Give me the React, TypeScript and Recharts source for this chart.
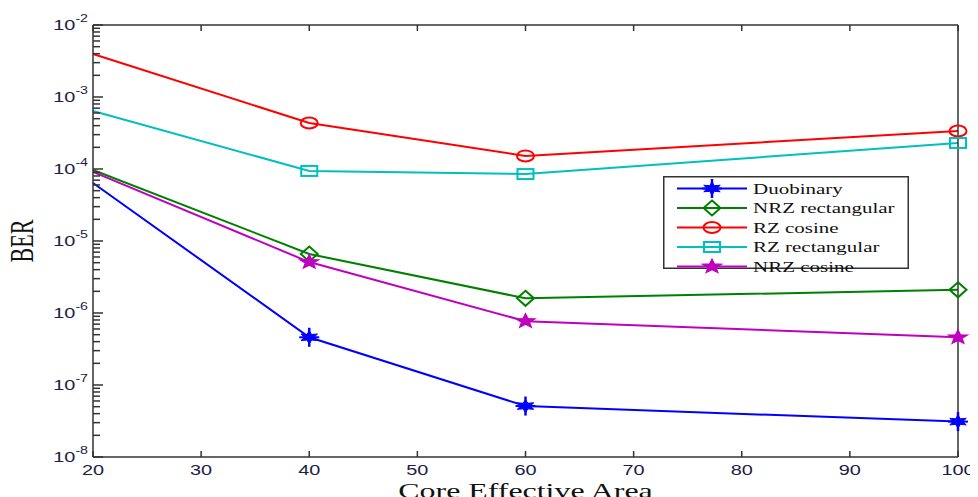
import React from 'react';
import { LineChart, Line, XAxis, YAxis, Legend } from 'recharts';

// ---- data ----
const xValues = [20, 40, 60, 100];
const duobinary = [6.4e-5, 4.6e-7, 5.1e-8, 3.1e-8];
const nrzRectangular = [9.7e-5, 6.6e-6, 1.6e-6, 2.1e-6];
const rzCosine = [3.95e-3, 4.35e-4, 1.52e-4, 3.37e-4];
const rzRectangular = [6.4e-4, 9.4e-5, 8.5e-5, 2.3e-4];
const nrzCosine = [9.1e-5, 5.1e-6, 7.7e-7, 4.6e-7];

const xTicks = [20, 30, 40, 50, 60, 70, 80, 90, 100];
const yDecadeExponents = [-8, -7, -6, -5, -4, -3, -2];

const seriesList = [
  { key: 'duo', name: 'Duobinary', color: '#0000ff', marker: 'asterisk', values: duobinary },
  { key: 'nrzRect', name: 'NRZ rectangular', color: '#008000', marker: 'diamond', values: nrzRectangular },
  { key: 'rzCos', name: 'RZ cosine', color: '#ff0000', marker: 'circle', values: rzCosine },
  { key: 'rzRect', name: 'RZ rectangular', color: '#00bfbf', marker: 'square', values: rzRectangular },
  { key: 'nrzCos', name: 'NRZ cosine', color: '#bf00bf', marker: 'pentagram', values: nrzCosine },
];

const data = xValues.map((x, i) => {
  const row: any = { x };
  seriesList.forEach((s) => (row[s.key] = s.values[i]));
  return row;
});

const yTicks: number[] = [];
yDecadeExponents.forEach((e, idx) => {
  yTicks.push(Math.pow(10, e));
  if (idx < yDecadeExponents.length - 1) {
    for (let k = 2; k <= 9; k++) yTicks.push(k * Math.pow(10, e));
  }
});

const isMajor = (v: number) => {
  const l = Math.log10(v);
  return Math.abs(l - Math.round(l)) < 1e-6;
};

const SX = 1.42; // horizontal stretch of the reference
const AXIS_COLOR = '#333333';
const LABEL_COLOR = '#1c1c44';
const SANS = '"Liberation Sans", Arial, Helvetica, sans-serif';
const SERIF = '"Liberation Serif", "Times New Roman", serif';

function starPoints(n: number, rx: number, ry: number, inner: number, cx: number, cy: number) {
  const pts: string[] = [];
  for (let i = 0; i < n * 2; i++) {
    const r = i % 2 === 0 ? 1 : inner;
    const a = -Math.PI / 2 + (i * Math.PI) / n;
    pts.push(`${cx + Math.cos(a) * r * rx},${cy + Math.sin(a) * r * ry}`);
  }
  return pts.join(' ');
}

function Marker({ kind, cx, cy, color }: { kind: string; cx: number; cy: number; color: string }) {
  switch (kind) {
    case 'circle':
      return <ellipse cx={cx} cy={cy} rx={8.5} ry={5.5} fill="none" stroke={color} strokeWidth={2} />;
    case 'square':
      return <rect x={cx - 8} y={cy - 5} width={16} height={10} fill="none" stroke={color} strokeWidth={2} />;
    case 'diamond':
      return (
        <polygon
          points={`${cx},${cy - 7.5} ${cx + 8.5},${cy} ${cx},${cy + 7.5} ${cx - 8.5},${cy}`}
          fill="none"
          stroke={color}
          strokeWidth={2}
        />
      );
    case 'pentagram':
      return (
        <polygon
          points={starPoints(5, 10, 7.5, 0.42, cx, cy)}
          fill={color}
          stroke={color}
          strokeWidth={1.2}
        />
      );
    case 'asterisk':
    default:
      return (
        <g>
          <polygon points={starPoints(6, 9.5, 6.5, 0.5, cx, cy)} fill={color} stroke={color} strokeWidth={1} />
          <line x1={cx} y1={cy - 9.5} x2={cx} y2={cy + 9.5} stroke={color} strokeWidth={2.5} />
          <line x1={cx - 10} y1={cy} x2={cx + 10} y2={cy} stroke={color} strokeWidth={2} />
        </g>
      );
  }
}

const makeDot = (kind: string, color: string) => (props: any) => {
  const { cx, cy, index, payload } = props;
  if (payload.x <= 20 || cx == null || cy == null) return <g key={`d-${index}`} />;
  return (
    <g key={`d-${index}`}>
      <Marker kind={kind} cx={cx} cy={cy} color={color} />
    </g>
  );
};

const LeftYTick = (props: any) => {
  const { x, y, payload } = props;
  const v = payload.value;
  const major = isMajor(v);
  const len = major ? 10 : 7;
  const exp = Math.round(Math.log10(v));
  return (
    <g>
      <line x1={x} y1={y} x2={x + len} y2={y} stroke={AXIS_COLOR} strokeWidth={1.5} />
      {major && (
        <g transform={`translate(${x - 5},${y}) scale(${SX},1)`}>
          <text x={0} y={5} textAnchor="end" fontFamily={SANS} fontSize={14} fill={LABEL_COLOR}>
            10
            <tspan dy={-8} fontSize={10}>
              {String(exp)}
            </tspan>
          </text>
        </g>
      )}
    </g>
  );
};

const RightYTick = (props: any) => {
  const { x, y, payload } = props;
  const len = isMajor(payload.value) ? 10 : 7;
  return <line x1={x} y1={y} x2={x - len} y2={y} stroke={AXIS_COLOR} strokeWidth={1.5} />;
};

const BottomXTick = (props: any) => {
  const { x, y, payload } = props;
  return (
    <g>
      <line x1={x} y1={y} x2={x} y2={y - 6} stroke={AXIS_COLOR} strokeWidth={1.5} />
      <g transform={`translate(${x},${y + 18}) scale(${SX},1)`}>
        <text x={0} y={0} textAnchor="middle" fontFamily={SANS} fontSize={14} fill={LABEL_COLOR}>
          {payload.value}
        </text>
      </g>
    </g>
  );
};

const TopXTick = (props: any) => {
  const { x, y } = props;
  return <line x1={x} y1={y} x2={x} y2={y + 6} stroke={AXIS_COLOR} strokeWidth={1.5} />;
};

const XTitle = (props: any) => {
  const vb = props.viewBox || {};
  const cx = (vb.x || 0) + (vb.width || 0) / 2;
  return (
    <g transform={`translate(${cx},498) scale(1.45,1)`}>
      <text x={0} y={0} textAnchor="middle" fontFamily={SERIF} fontSize={22} fill="#111">
        Core Effective Area
      </text>
    </g>
  );
};

const YTitle = (props: any) => {
  const vb = props.viewBox || {};
  const cy = (vb.y || 0) + (vb.height || 0) / 2;
  return (
    <g transform={`translate(33,${cy}) scale(1.5,1) rotate(-90)`}>
      <text x={0} y={0} textAnchor="middle" fontFamily={SERIF} fontSize={22} fill="#111">
        BER
      </text>
    </g>
  );
};

const LegendBox = () => {
  const w = 246;
  const h = 93;
  return (
    <svg width={w} height={h + 6} style={{ display: 'block', overflow: 'visible' }}>
      <rect x={0.75} y={0.75} width={w - 1.5} height={h - 1.5} fill="#fff" stroke={AXIS_COLOR} strokeWidth={1.5} />
      {seriesList.map((s, i) => {
        const cy = 12.5 + i * 19.5;
        return (
          <g key={s.key}>
            <line x1={14} y1={cy} x2={84} y2={cy} stroke={s.color} strokeWidth={2} />
            <Marker kind={s.marker} cx={49} cy={cy} color={s.color} />
            <g transform={`translate(90,${cy + 5}) scale(1.4,1)`}>
              <text x={0} y={0} fontFamily={SERIF} fontSize={15} fill="#111">
                {s.name}
              </text>
            </g>
          </g>
        );
      })}
    </svg>
  );
};

export default function App() {
  return (
    <div style={{ margin: '-8px 0 0 -8px', width: 978, height: 497, background: '#fff', position: 'relative' }}>
      <LineChart width={978} height={497} data={data} margin={{ top: 0, right: 0, bottom: 0, left: 0 }}>
        <XAxis
          dataKey="x"
          type="number"
          domain={[20, 100]}
          ticks={xTicks}
          interval={0}
          height={40}
          tickSize={0}
          tickMargin={0}
          tick={<BottomXTick />}
          axisLine={{ stroke: AXIS_COLOR, strokeWidth: 1.5 }}
          tickLine={false}
          label={<XTitle />}
        />
        <XAxis
          xAxisId="top"
          orientation="top"
          dataKey="x"
          type="number"
          domain={[20, 100]}
          ticks={xTicks}
          interval={0}
          height={25}
          tickSize={0}
          tickMargin={0}
          tick={<TopXTick />}
          axisLine={{ stroke: AXIS_COLOR, strokeWidth: 1.5 }}
          tickLine={false}
        />
        <YAxis
          scale="log"
          type="number"
          domain={[1e-8, 1e-2]}
          ticks={yTicks}
          interval={0}
          width={93}
          tickSize={0}
          tickMargin={0}
          tick={<LeftYTick />}
          axisLine={{ stroke: AXIS_COLOR, strokeWidth: 1.5 }}
          tickLine={false}
          label={<YTitle />}
        />
        <YAxis
          yAxisId="right"
          orientation="right"
          scale="log"
          type="number"
          domain={[1e-8, 1e-2]}
          ticks={yTicks}
          interval={0}
          width={20}
          tickSize={0}
          tickMargin={0}
          tick={<RightYTick />}
          axisLine={{ stroke: AXIS_COLOR, strokeWidth: 1.5 }}
          tickLine={false}
        />
        {seriesList.map((s) => (
          <Line
            key={s.key}
            dataKey={s.key}
            name={s.name}
            stroke={s.color}
            strokeWidth={2}
            type="linear"
            dot={makeDot(s.marker, s.color)}
            activeDot={false}
            isAnimationActive={false}
          />
        ))}
        <Legend
          layout="vertical"
          align="center"
          verticalAlign="middle"
          content={<LegendBox />}
          wrapperStyle={{ position: 'absolute', left: 663, top: 176, width: 246, height: 99 }}
        />
      </LineChart>
    </div>
  );
}
